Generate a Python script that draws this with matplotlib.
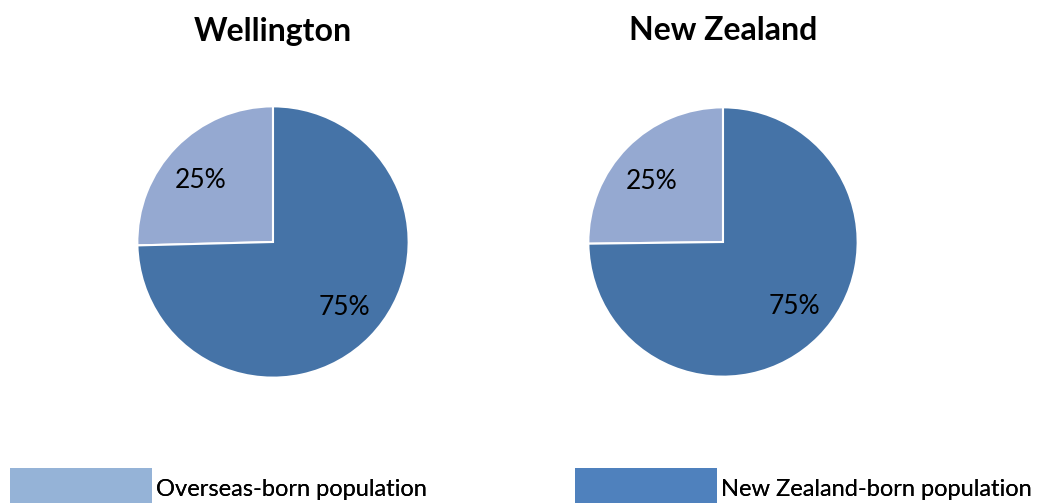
import matplotlib.pyplot as plt
from matplotlib.patches import Patch

# Data
regions = ['Wellington', 'New Zealand']
labels = ['Overseas-born population', 'New Zealand-born population']
overseas = [25.4, 25.2]
nz_born = [74.6, 74.8]

pie_colors = ['#95A9D1', '#4573A7']
legend_colors = ['#95B3D7', '#4F81BD']

plt.rcParams['font.family'] = ['Lato', 'DejaVu Sans']

W, H = 1043, 503
fig = plt.figure(figsize=(W / 100, H / 100), dpi=100)

# pie centres / radii in pixels
centres = [(273, 242, 137), (723, 242, 136)]
# label placement (in pie radius units), as Excel puts them
label_pos = [(-0.53, 0.45), (0.53, -0.48)]

for i, region in enumerate(regions):
    cx, cy, r = centres[i]
    ax = fig.add_axes([(cx - r) / W, (H - cy - r) / H, 2 * r / W, 2 * r / H])
    wedges, texts, autotexts = ax.pie(
        [overseas[i], nz_born[i]],
        colors=pie_colors,
        startangle=90,
        counterclock=True,
        autopct='%.0f%%',
        pctdistance=0.7,
        wedgeprops=dict(edgecolor='white', linewidth=1.5),
        textprops=dict(fontsize=19, color='black'),
    )
    for t, p in zip(autotexts, label_pos):
        t.set_position(p)
    ax.set_xlim(-1.01, 1.01)
    ax.set_ylim(-1.01, 1.01)
    ax.set_axis_off()
    fig.text(cx / W, 1 - 31 / H, region, ha='center', va='center',
             fontsize=23, fontweight='bold')

# Legend (two separate entries, cut at the bottom edge like the original)
anchors = [10 / W, 575 / W]
for j in range(2):
    leg = fig.legend(handles=[Patch(facecolor=legend_colors[j], edgecolor='none')],
                     labels=[labels[j]],
                     loc='lower left', bbox_to_anchor=(anchors[j], -7 / H),
                     frameon=False, fontsize=17, handlelength=6.0,
                     handleheight=2.35, handletextpad=0.2, borderpad=0,
                     borderaxespad=0)
    fig.add_artist(leg)

fig.savefig('out.png', dpi=100)
